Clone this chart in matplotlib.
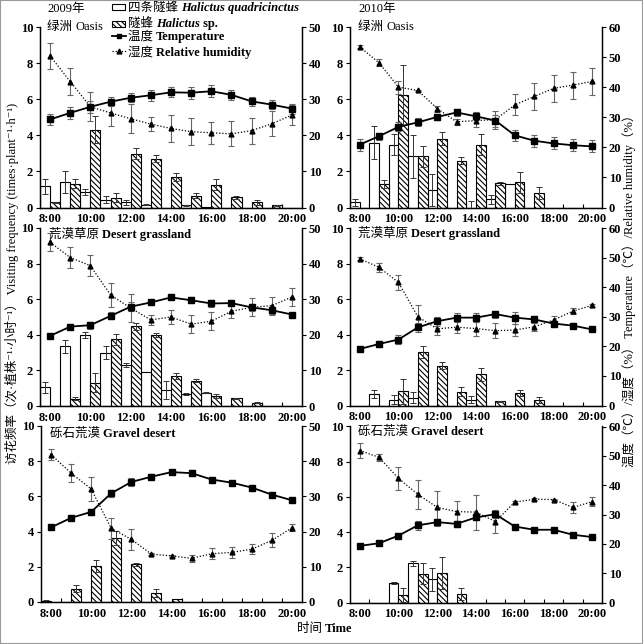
import numpy as np
import matplotlib
matplotlib.use('Agg')
import matplotlib.pyplot as plt
from matplotlib.lines import Line2D
from matplotlib.patches import Rectangle

plt.rcParams['font.family'] = ['Liberation Serif', 'Noto Sans CJK SC', 'DejaVu Sans']
plt.rcParams['hatch.linewidth'] = 0.8
plt.rcParams['axes.unicode_minus'] = False

# ---------------- data ----------------
hours = np.arange(8, 21)
tick_hours = [8, 10, 12, 14, 16, 18, 20]
tick_labels = ['8:00', '10:00', '12:00', '14:00', '16:00', '18:00', '20:00']

# 2009 Oasis
o09_temp = [24.4, 26.2, 27.9, 29.3, 30.4, 31.1, 31.9, 31.8, 32.2, 31.2, 29.4, 28.5, 27.4]
o09_temp_err = [1.6, 1.6, 1.6, 1.3, 1.2, 1.5, 1.4, 1.7, 1.6, 1.4, 1.2, 1.2, 1.4]
o09_hum = [42.0, 34.9, 27.9, 26.2, 24.6, 23.1, 21.9, 21.0, 20.7, 20.4, 21.3, 23.2, 25.6]
o09_hum_err = [3.7, 3.7, 4.0, 3.5, 4.0, 2.0, 3.7, 3.7, 3.0, 3.5, 3.6, 3.5, 2.8]
o09_quad = [1.18, 1.40, 0.85, 0.44, 0.28, 0.15, 0, 0.13, 0.02, 0, 0, 0, 0]
o09_quad_err = [0.42, 0.62, 0.15, 0.17, 0.15, 0.03, 0, 0.03, 0, 0, 0, 0, 0]
o09_sp = [0.28, 1.32, 4.30, 0.53, 2.98, 2.70, 1.69, 0.66, 1.27, 0.57, 0.28, 0.13, 0]
o09_sp_err = [0.05, 0.25, 0.75, 0.25, 0.30, 0.20, 0.20, 0.15, 0.30, 0.08, 0.12, 0.02, 0]

# 2010 Oasis
o10_temp = [20.9, 23.7, 26.8, 28.3, 30.1, 31.6, 30.3, 28.9, 24.0, 22.2, 21.3, 20.7, 20.3]
o10_temp_err = [2.0, 1.2, 1.5, 1.3, 1.0, 1.2, 1.3, 2.0, 1.8, 2.0, 2.0, 2.0, 2.0]
o10_hum = [53.4, 48.1, 40.0, 38.9, 32.9, 28.5, 28.9, 29.2, 34.1, 36.9, 39.6, 40.7, 41.9]
o10_hum_err = [0.5, 1.2, 2.2, 0.3, 1.0, 1.0, 2.0, 3.0, 3.5, 4.5, 4.5, 4.5, 4.5]
o10_quad = [0.28, 3.60, 3.49, 2.83, 0.97, 0, 0, 0.46, 1.28, 0, 0, 0, 0]
o10_quad_err = [0.20, 0.90, 0.60, 1.20, 0.90, 0, 0.35, 0.25, 0, 0, 0, 0, 0]
o10_sp = [0, 1.31, 6.24, 2.83, 3.82, 2.60, 3.49, 1.34, 1.41, 0.81, 0, 0, 0]
o10_sp_err = [0, 0.22, 1.65, 0.60, 0.35, 0.20, 0.60, 0.10, 0.58, 0.35, 0, 0, 0]

# 2009 Desert grassland
g09_temp = [19.7, 22.3, 22.7, 25.3, 27.9, 29.1, 30.5, 29.7, 28.8, 28.9, 27.7, 26.9, 25.7]
g09_temp_err = [0.5, 0.7, 1.0, 1.0, 1.3, 0.8, 0.5, 0.9, 1.0, 0.5, 1.0, 1.0, 0.5]
g09_hum = [46.0, 41.7, 39.4, 31.2, 27.5, 24.2, 25.0, 23.0, 23.8, 26.6, 27.7, 28.2, 30.6]
g09_hum_err = [2.5, 3.0, 3.0, 3.3, 4.0, 1.5, 2.0, 2.5, 2.5, 2.0, 2.5, 2.5, 2.5]
g09_quad = [1.05, 3.35, 4.00, 3.00, 2.30, 1.91, 0.90, 0.68, 0.75, 0, 0, 0, 0]
g09_quad_err = [0.30, 0.38, 0.18, 0.35, 0.12, 0, 0.50, 0.05, 0.02, 0, 0, 0, 0]
g09_sp = [0, 0.41, 1.31, 3.75, 4.47, 3.98, 1.69, 1.43, 0.56, 0.43, 0.19, 0, 0]
g09_sp_err = [0, 0.10, 0.55, 0.30, 0.20, 0.12, 0.15, 0.10, 0.10, 0.03, 0.02, 0, 0]

# 2010 Desert grassland
g10_temp = [19.1, 20.8, 22.3, 26.4, 28.5, 29.7, 29.7, 30.9, 29.7, 29.1, 27.7, 27.0, 25.7]
g10_temp_err = [0.3, 1.0, 1.5, 1.5, 1.5, 1.5, 1.5, 1.2, 2.0, 1.2, 0.8, 0.8, 0.5]
g10_hum = [49.6, 46.7, 41.6, 30.0, 25.9, 26.5, 26.0, 25.3, 25.5, 26.6, 28.9, 31.9, 33.9]
g10_hum_err = [0.5, 1.5, 2.5, 4.0, 2.0, 2.0, 2.5, 2.5, 2.0, 1.5, 1.5, 1.0, 0.5]
g10_quad = [0, 0.66, 0.32, 0.45, 0, 0, 0.32, 0, 0, 0, 0, 0, 0]
g10_quad_err = [0, 0.22, 0.25, 0.30, 0, 0, 0.20, 0, 0, 0, 0, 0, 0]
g10_sp = [0, 0, 0.81, 3.02, 2.25, 0.77, 1.75, 0.23, 0.70, 0.32, 0, 0, 0]
g10_sp_err = [0, 0, 0.70, 0.35, 0.20, 0.25, 0.38, 0.05, 0.18, 0.18, 0, 0, 0]

# 2009 Gravel desert
d09_temp = [21.2, 23.9, 25.6, 30.9, 34.1, 35.6, 36.9, 36.6, 34.8, 33.9, 32.5, 30.5, 28.9]
d09_temp_err = [0.3, 0.5, 0.8, 1.0, 1.2, 0.8, 0.4, 0.9, 0.6, 0.4, 0.4, 0.4, 0.4]
d09_hum = [41.9, 36.6, 32.1, 20.9, 17.8, 13.6, 13.1, 12.4, 13.7, 14.1, 15.0, 17.5, 21.1]
d09_hum_err = [1.5, 2.5, 3.5, 3.0, 3.0, 0.3, 0.3, 1.0, 1.5, 1.5, 1.5, 2.0, 1.0]
d09_quad = [0.03, 0, 0, 0, 0, 0, 0, 0, 0, 0, 0, 0, 0]
d09_quad_err = [0.10, 0, 0, 0, 0, 0, 0, 0, 0, 0, 0, 0, 0]
d09_sp = [0, 0.76, 2.05, 3.64, 2.14, 0.51, 0.19, 0, 0, 0, 0, 0, 0]
d09_sp_err = [0, 0.20, 0.35, 0.40, 0.10, 0.25, 0, 0, 0, 0, 0, 0, 0]

# 2010 Gravel desert
d10_temp = [19.3, 20.2, 22.8, 26.3, 27.4, 26.8, 29.0, 30.1, 25.9, 24.8, 24.8, 23.1, 22.3]
d10_temp_err = [0.3, 0.3, 0.8, 1.5, 1.2, 1.0, 1.0, 1.2, 0.5, 0.3, 0.3, 0.3, 0.3]
d10_hum = [51.8, 49.5, 42.3, 36.9, 32.4, 31.0, 30.8, 27.6, 34.2, 35.2, 35.1, 32.4, 34.4]
d10_hum_err = [2.5, 1.2, 4.0, 5.0, 5.5, 3.5, 6.0, 4.0, 0.3, 0.3, 0.3, 2.0, 1.5]
d10_quad = [0, 0, 1.10, 2.22, 1.33, 0, 0, 0, 0, 0, 0, 0, 0]
d10_quad_err = [0, 0, 0.05, 0.15, 0.65, 0, 0, 0, 0, 0, 0, 0, 0]
d10_sp = [0, 0, 0.42, 1.63, 1.67, 0.47, 0, 0, 0, 0, 0, 0, 0]
d10_sp_err = [0, 0, 0.40, 0.60, 0.90, 0.35, 0, 0, 0, 0, 0, 0, 0]

# ---------------- figure ----------------
W, H = 643, 644
fig = plt.figure(figsize=(W / 100, H / 100), dpi=100)


def px_box(x0, y0, x1, y1):
    return [x0 / W, 1 - y1 / H, (x1 - x0) / W, (y1 - y0) / H]


HATCH = '\\\\\\\\\\\\'
TICKFONT = dict(fontsize=9, fontweight='bold')


def draw_panel(box, quad, quad_err, sp, sp_err, temp, temp_err, hum, hum_err, rmax):
    ax = fig.add_axes(px_box(*box))
    h = hours
    quad = np.asarray(quad); quad_err = np.asarray(quad_err)
    sp = np.asarray(sp); sp_err = np.asarray(sp_err)
    ax.bar(h - 0.25, quad, width=0.5, color='white', edgecolor='black', linewidth=0.8, zorder=2)
    ax.bar(h + 0.25, sp, width=0.5, color='white', edgecolor='black', linewidth=0.8,
           hatch=HATCH, zorder=2)
    m = quad_err > 0
    ax.errorbar(h[m] - 0.25, quad[m], yerr=quad_err[m], fmt='none', ecolor='#333333',
                elinewidth=0.7, capsize=2, capthick=0.7, zorder=3)
    m = sp_err > 0
    ax.errorbar(h[m] + 0.25, sp[m], yerr=sp_err[m], fmt='none', ecolor='#333333',
                elinewidth=0.7, capsize=2, capthick=0.7, zorder=3)
    ax.set_xlim(7.5, 20.5)
    ax.set_ylim(0, 10)
    ax.set_xticks(tick_hours)
    ax.set_xticklabels(tick_labels, **TICKFONT)
    ax.set_xticks(np.arange(8.5, 20.5, 1.0), minor=True)
    ax.tick_params(axis='x', which='major', length=0, pad=4)
    ax.tick_params(axis='x', which='minor', length=3, direction='in', width=0.8)
    yt = np.arange(0, 11, 2)
    ax.set_yticks(yt)
    ax.set_yticklabels([str(v) for v in yt], **TICKFONT)
    ax.tick_params(axis='y', direction='out', length=3, width=0.8, pad=2)
    ax.spines['top'].set_visible(False)
    for s in ('left', 'bottom', 'right'):
        ax.spines[s].set_linewidth(1.0)

    ax2 = ax.twinx()
    ax2.errorbar(hours, temp, yerr=temp_err, fmt='-s', color='black', ms=3.8, lw=1.3,
                 ecolor='#666666', elinewidth=0.8, capsize=2, capthick=0.8, zorder=4)
    ax2.errorbar(hours, hum, yerr=hum_err, fmt='^', linestyle=(0, (1, 1.5)), color='black',
                 ms=3.5, lw=0.9, ecolor='#666666', elinewidth=0.8, capsize=2,
                 capthick=0.8, zorder=4)
    ax2.set_ylim(0, rmax)
    rt = np.arange(0, rmax + 1, 10)
    ax2.set_yticks(rt)
    ax2.set_yticklabels([str(v) for v in rt], **TICKFONT)
    ax2.tick_params(axis='y', direction='out', length=3, width=0.8, pad=2)
    ax2.spines['top'].set_visible(False)
    ax2.set_xlim(7.5, 20.5)
    return ax, ax2


draw_panel((40, 27, 302, 207.5), o09_quad, o09_quad_err, o09_sp, o09_sp_err,
           o09_temp, o09_temp_err, o09_hum, o09_hum_err, 50)
draw_panel((350, 27, 602, 207.5), o10_quad, o10_quad_err, o10_sp, o10_sp_err,
           o10_temp, o10_temp_err, o10_hum, o10_hum_err, 60)
draw_panel((40, 228, 302, 406), g09_quad, g09_quad_err, g09_sp, g09_sp_err,
           g09_temp, g09_temp_err, g09_hum, g09_hum_err, 50)
draw_panel((350, 228, 602, 405.5), g10_quad, g10_quad_err, g10_sp, g10_sp_err,
           g10_temp, g10_temp_err, g10_hum, g10_hum_err, 60)
draw_panel((41, 426, 302, 602), d09_quad, d09_quad_err, d09_sp, d09_sp_err,
           d09_temp, d09_temp_err, d09_hum, d09_hum_err, 50)
draw_panel((350, 426.5, 602, 602.5), d10_quad, d10_quad_err, d10_sp, d10_sp_err,
           d10_temp, d10_temp_err, d10_hum, d10_hum_err, 60)

# ---------------- overlay for texts / legend ----------------
ov = fig.add_axes([0, 0, 1, 1])
ov.set_xlim(0, W)
ov.set_ylim(H, 0)
ov.axis('off')

CJK = dict(fontweight='normal')
BOLD = dict(fontweight='bold')
BI = dict(fontweight='bold', style='italic')
REG = dict(fontweight='normal')


def rich(x, y, parts, size=9):
    prev = None
    for s, kw in parts:
        if prev is None:
            prev = ov.text(x, y, s, va='baseline', ha='left', fontsize=size, **kw)
        else:
            prev = ov.annotate(s, xy=(1, y), xycoords=(prev, 'data'), va='baseline',
                               ha='left', fontsize=size, annotation_clip=False, **kw)
    return prev


# year + site labels
rich(47, 12, [('2009年', REG)])
rich(358, 12, [('2010年', REG)])
rich(47, 30, [('绿洲 ', CJK), ('Oasis', REG)])
rich(358, 30, [('绿洲 ', CJK), ('Oasis', REG)])
rich(49, 238, [('荒漠草原 ', CJK), ('Desert grassland', BOLD)])
rich(358, 237, [('荒漠草原 ', CJK), ('Desert grassland', BOLD)])
rich(50, 437, [('砾石荒漠 ', CJK), ('Gravel desert', BOLD)])
rich(358, 435, [('砾石荒漠 ', CJK), ('Gravel desert', BOLD)])

# legend
ov.add_patch(Rectangle((112, 3.5), 13, 6, facecolor='white', edgecolor='black', lw=0.8))
ov.add_patch(Rectangle((112, 20.5), 13, 6, facecolor='white', edgecolor='black', lw=0.8,
                       hatch=HATCH))
ov.add_line(Line2D([112, 119, 126], [35.5, 35.5, 35.5], color='black', lw=1.3, marker='s',
                   markevery=[1], ms=3.5))
ov.add_line(Line2D([112, 119, 126], [51, 51, 51], color='black', lw=0.9,
                   linestyle=(0, (1, 1.5)), marker='^', markevery=[1], ms=3.5))
rich(128, 11, [('四条隧蜂 ', CJK), ('Halictus quadricinctus', BI)])
rich(128, 27, [('隧蜂 ', CJK), ('Halictus', BI), (' sp.', BOLD)])
rich(128, 40, [('温度 ', CJK), ('Temperature', BOLD)])
rich(128, 55.5, [('湿度 ', CJK), ('Relative humidity', BOLD)])

# axis titles
ov.text(12, 283, '访花频率（次·植株⁻¹·小时⁻¹） Visiting frequency (times·plant⁻¹·h⁻¹)',
        rotation=90, ha='center', va='center', fontsize=9)
ov.text(629, 288, '温度（℃）/湿度（%） Temperature（℃）/Relative humidity（%）',
        rotation=90, ha='center', va='center', fontsize=9)
t = ov.text(297, 632, '时间 ', ha='left', va='baseline', fontsize=9)
ov.annotate('Time', xy=(1, 632), xycoords=(t, 'data'), ha='left', va='baseline',
            fontsize=9, fontweight='bold', annotation_clip=False)

# outer frame
fig.patches.append(Rectangle((0, 0), 1, 1, transform=fig.transFigure, fill=False,
                             edgecolor='#999999', lw=1.5))

fig.savefig('out.png', dpi=100)
